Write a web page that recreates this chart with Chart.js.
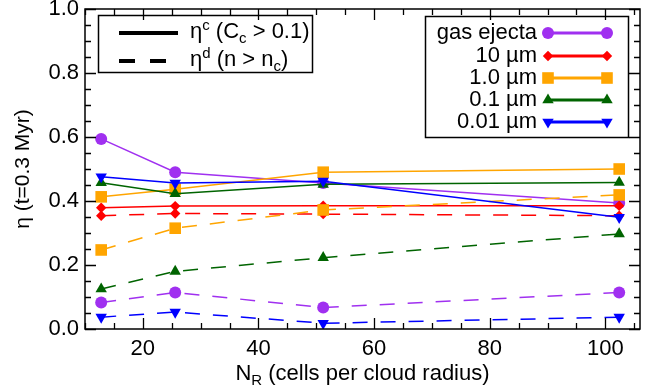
<!DOCTYPE html>
<html><head><meta charset="utf-8">
<script src="https://cdn.jsdelivr.net/npm/chart.js@4.4.1/dist/chart.umd.min.js"></script>
<style>html,body{margin:0;padding:0;background:#fff}#wrap{width:659px;height:387px;position:relative}</style>
</head><body><div id="wrap"><canvas id="c" width="659" height="387"></canvas></div>
<script>
// ---- data ----
const nR = [12.8, 25.6, 51.2, 102.4];
const gasSolid    = [0.594, 0.490, 0.456, 0.394];
const gasDashed   = [0.083, 0.114, 0.067, 0.114];
const um10Solid   = [0.379, 0.384, 0.385, 0.385];
const um10Dashed  = [0.354, 0.361, 0.359, 0.354];
const um1Solid    = [0.413, 0.437, 0.490, 0.500];
const um1Dashed   = [0.247, 0.315, 0.372, 0.419];
const um01Solid   = [0.457, 0.423, 0.452, 0.458];
const um01Dashed  = [0.125, 0.180, 0.223, 0.297];
const um001Solid  = [0.476, 0.456, 0.462, 0.349];
const um001Dashed = [0.037, 0.053, 0.018, 0.037];
const seriesLabels = ['gas ejecta', '10 \u00b5m', '1.0 \u00b5m', '0.1 \u00b5m', '0.01 \u00b5m'];
const xTicks = [20, 40, 60, 80, 100];
const yTicks = [0.0, 0.2, 0.4, 0.6, 0.8, 1.0];
const xRange = [10, 106];
const yRange = [0, 1];

const FONT = "'Liberation Sans', Arial, Helvetica, sans-serif";
const FS = 22;
const species = [
  {color:'#a030f0', style:'circle',   radius:6,   rot:0,   solid:gasSolid,   dashed:gasDashed},
  {color:'#ff0000', style:'rectRot',  radius:5.2, rot:0,   solid:um10Solid,  dashed:um10Dashed},
  {color:'#ffa500', style:'rect',     radius:8.2, rot:0,   solid:um1Solid,   dashed:um1Dashed},
  {color:'#006400', style:'triangle', radius:6.6, rot:0,   solid:um01Solid,  dashed:um01Dashed},
  {color:'#0000ff', style:'triangle', radius:6.6, rot:180, solid:um001Solid, dashed:um001Dashed}
];
const DASH = [15, 13];

const datasets = [];
species.forEach((sp, k) => {
  [[sp.solid, []], [sp.dashed, DASH]].forEach(([vals, dash], j) => {
    datasets.push({
      label: seriesLabels[k] + (j ? ' (n>nc)' : ' (Cc>0.1)'),
      data: nR.map((x, i) => ({x: x, y: vals[i]})),
      borderColor: sp.color, backgroundColor: sp.color,
      borderWidth: 1.5, borderDash: dash,
      pointStyle: sp.style, pointRadius: sp.radius, pointRotation: sp.rot,
      pointBorderWidth: 0, pointBackgroundColor: sp.color, pointHoverRadius: sp.radius,
      tension: 0, fill: false
    });
  });
});
datasets.forEach((d, i) => { d.order = datasets.length - i; });

function shape(ctx, style, rot, r, x, y, color) {
  ctx.save();
  ctx.fillStyle = color;
  ctx.beginPath();
  if (style === 'circle') {
    ctx.arc(x, y, r, 0, Math.PI * 2);
  } else if (style === 'rect') {
    const s = r * Math.SQRT1_2;
    ctx.rect(x - s, y - s, 2 * s, 2 * s);
  } else if (style === 'rectRot') {
    ctx.moveTo(x, y - r); ctx.lineTo(x + r, y); ctx.lineTo(x, y + r); ctx.lineTo(x - r, y); ctx.closePath();
  } else if (style === 'triangle') {
    let a = rot * Math.PI / 180;
    for (let i = 0; i < 3; i++) {
      const px = x + Math.sin(a) * r, py = y - Math.cos(a) * r;
      if (i === 0) ctx.moveTo(px, py); else ctx.lineTo(px, py);
      a += 2 * Math.PI / 3;
    }
    ctx.closePath();
  }
  ctx.fill();
  ctx.restore();
}

function richText(ctx, parts, x, y, align) {
  // parts: [text, size, dy]
  let w = 0;
  parts.forEach(p => { ctx.font = p[1] + 'px ' + FONT; w += ctx.measureText(p[0]).width; });
  let cx = align === 'center' ? x - w / 2 : (align === 'right' ? x - w : x);
  ctx.textAlign = 'left';
  ctx.textBaseline = 'alphabetic';
  parts.forEach(p => {
    ctx.font = p[1] + 'px ' + FONT;
    ctx.fillText(p[0], cx, y + p[2]);
    cx += ctx.measureText(p[0]).width;
  });
}

const decor = {
  id: 'decor',
  afterDraw(chart) {
    const ctx = chart.ctx;
    const a = chart.chartArea;
    const xs = chart.scales.x, ys = chart.scales.y;
    ctx.save();
    ctx.strokeStyle = '#000';
    ctx.fillStyle = '#000';
    ctx.lineWidth = 1.5;
    ctx.setLineDash([]);
    ctx.strokeRect(a.left, a.top, a.right - a.left, a.bottom - a.top);
    // ticks
    ctx.lineWidth = 1.3;
    ctx.beginPath();
    for (let v = xRange[0]; v <= xRange[1] + 1e-9; v += 5) {
      const px = Math.round(xs.getPixelForValue(v)) + 0.5;
      const L = (v % 20 === 0) ? 11 : 6;
      ctx.moveTo(px, a.bottom); ctx.lineTo(px, a.bottom - L);
      ctx.moveTo(px, a.top); ctx.lineTo(px, a.top + L);
    }
    for (let i = 0; i <= 20; i++) {
      const v = i * 0.05;
      const py = Math.round(ys.getPixelForValue(v)) + 0.5;
      const L = (i % 4 === 0) ? 11 : 6;
      ctx.moveTo(a.left, py); ctx.lineTo(a.left + L, py);
      ctx.moveTo(a.right, py); ctx.lineTo(a.right - L, py);
    }
    ctx.stroke();

    // x title with subscript
    richText(ctx, [['N', FS, 0], ['R', 15, 5], [' (cells per cloud radius)', FS, 0]], (a.left + a.right) / 2, 380, 'center');

    // left legend box
    ctx.lineWidth = 1.5;
    ctx.strokeRect(98.5, 15.5, 214, 57);
    ctx.lineWidth = 4;
    ctx.beginPath(); ctx.moveTo(119, 33); ctx.lineTo(178, 33); ctx.stroke();
    ctx.setLineDash([16, 15]);
    ctx.beginPath(); ctx.moveTo(119, 61); ctx.lineTo(178, 61); ctx.stroke();
    ctx.setLineDash([]);
    richText(ctx, [['\u03b7', FS, 0], ['c', 15, -8], [' (C', FS, 0], ['c', 15, 5], [' > 0.1)', FS, 0]], 190, 38, 'left');
    richText(ctx, [['\u03b7', FS, 0], ['d', 15, -8], [' (n > n', FS, 0], ['c', 15, 5], [')', FS, 0]], 190, 66, 'left');

    // right legend box
    ctx.lineWidth = 1.5;
    ctx.strokeRect(425.5, 16.5, 203, 121);
    const rows = [33, 56, 78, 100, 122];
    species.forEach((sp, k) => {
      const y = rows[k];
      ctx.strokeStyle = sp.color;
      ctx.lineWidth = 3;
      ctx.beginPath(); ctx.moveTo(548, y); ctx.lineTo(607, y); ctx.stroke();
      shape(ctx, sp.style, sp.rot, sp.radius, 548, y, sp.color);
      shape(ctx, sp.style, sp.rot, sp.radius, 607, y, sp.color);
      ctx.fillStyle = '#000';
      richText(ctx, [[seriesLabels[k], FS, 0]], 537, y + 6, 'right');
    });
    ctx.restore();
  }
};

new Chart(document.getElementById('c'), {
  type: 'line',
  data: {datasets: datasets},
  options: {
    responsive: false, animation: false,
    layout: {padding: {left: 0, right: 19, top: 9, bottom: 0}},
    plugins: {legend: {display: false}, tooltip: {enabled: false}},
    scales: {
      x: {
        type: 'linear', min: xRange[0], max: xRange[1],
        grid: {display: false, drawTicks: false}, border: {display: false},
        afterBuildTicks: s => { s.ticks = xTicks.map(v => ({value: v})); },
        afterFit: s => { s.height = 58; s.paddingLeft = 0; s.paddingRight = 0; },
        ticks: {font: {family: FONT, size: FS}, color: '#000', padding: 7, maxRotation: 0, autoSkip: false,
                callback: v => String(v)}
      },
      y: {
        type: 'linear', min: yRange[0], max: yRange[1],
        grid: {display: false, drawTicks: false}, border: {display: false},
        afterBuildTicks: s => { s.ticks = yTicks.map(v => ({value: v})); },
        afterFit: s => { s.width = 85; s.paddingTop = 0; s.paddingBottom = 0; },
        ticks: {font: {family: FONT, size: FS}, color: '#000', padding: 6, autoSkip: false,
                callback: v => Number(v).toFixed(1)},
        title: {display: true, text: '\u03b7 (t=0.3 Myr)', color: '#000', font: {family: FONT, size: 21},
                padding: {top: 11, bottom: 0}}
      }
    }
  },
  plugins: [decor]
});
</script>
</body></html>
